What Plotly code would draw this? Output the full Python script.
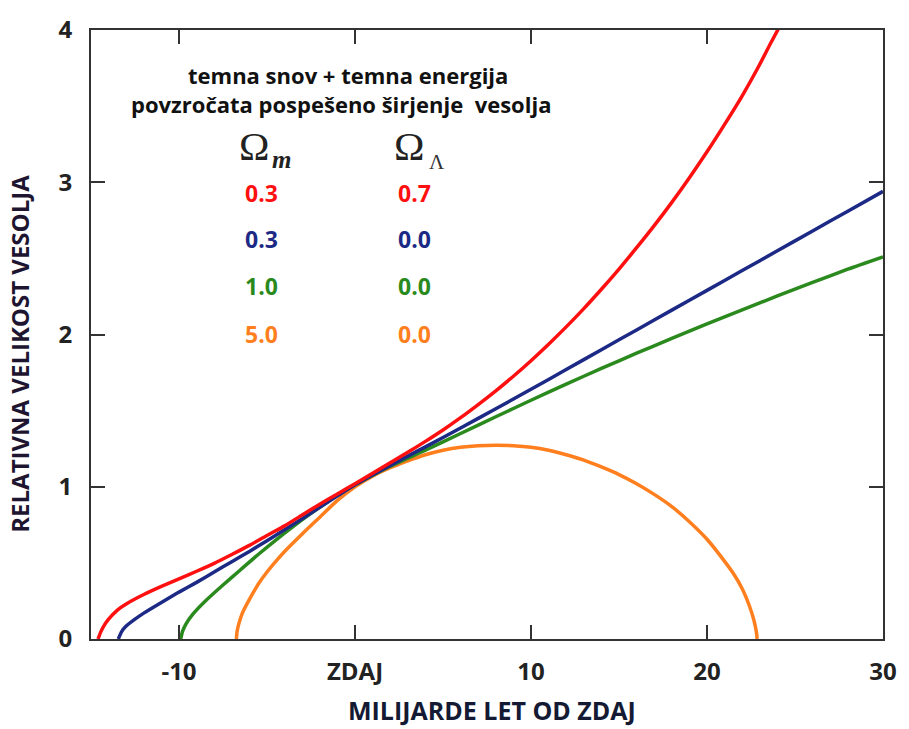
import plotly.graph_objects as go

# ---- data ----
red_x = [-14.6, -14.45, -14.3, -14.0, -13.5, -13.0, -12.0, -11.0, -10.0, -9.0, -8.0, -7.0, -6.0, -5.0, -4.0, -3.0, -2.0, -1.0,
         0.0, 1.0, 2.0, 3.0, 4.0, 5.0, 6.0, 7.0, 8.0, 9.0, 10.0, 11.0, 12.0, 13.0, 14.0, 15.0, 16.0, 17.0, 18.0, 19.0, 20.0,
         21.0, 22.0, 23.0, 23.6, 24.3]
red_y = [0.0, 0.045, 0.08, 0.13, 0.19, 0.23, 0.292, 0.345, 0.395, 0.445, 0.497, 0.555, 0.615, 0.68, 0.743, 0.815, 0.885, 0.953,
         1.02, 1.088, 1.157, 1.226, 1.298, 1.373, 1.454, 1.54, 1.63, 1.726, 1.828, 1.936, 2.05, 2.17, 2.297, 2.43, 2.57, 2.715,
         2.868, 3.03, 3.2, 3.38, 3.568, 3.775, 3.91, 4.06]

blue_x = [-13.45, -13.25, -13.0, -12.5, -12.0, -11.0, -10.0, -9.0, -8.0, -7.0, -6.0, -5.0, -4.0, -3.0, -2.0, -1.0,
          0.0, 2.0, 4.0, 6.0, 8.0, 10.0, 12.0, 14.0, 16.0, 18.0, 20.0, 22.0, 24.0, 26.0, 28.0, 30.0]
blue_y = [0.0, 0.05, 0.085, 0.13, 0.17, 0.24, 0.308, 0.372, 0.44, 0.508, 0.575, 0.646, 0.717, 0.79, 0.865, 0.94,
          1.013, 1.14, 1.262, 1.386, 1.512, 1.64, 1.77, 1.9, 2.03, 2.16, 2.29, 2.42, 2.55, 2.68, 2.81, 2.94]

green_x = [-9.9, -9.8, -9.6, -9.2, -8.5, -7.5, -6.5, -5.5, -4.5, -3.5, -2.5, -1.5, -0.5, 0.0,
           1.0, 2.0, 4.0, 6.0, 8.0, 10.0, 12.0, 14.0, 16.0, 18.0, 20.0, 22.0, 24.0, 26.0, 28.0, 30.0]
green_y = [0.0, 0.05, 0.10, 0.165, 0.25, 0.355, 0.455, 0.555, 0.65, 0.74, 0.825, 0.905, 0.98, 1.013,
           1.075, 1.135, 1.24, 1.35, 1.46, 1.568, 1.674, 1.777, 1.877, 1.974, 2.069, 2.162, 2.253, 2.342, 2.429, 2.51]

orange_x = [-6.74, -6.7, -6.6, -6.4, -6.0, -5.5, -5.0, -4.5, -4.0, -3.0, -2.0, -1.0, 0.0, 1.0, 2.0, 3.0, 4.0, 5.0, 6.0,
            7.0, 8.0, 9.0, 10.0, 11.0, 12.0, 13.0, 14.0, 15.0, 16.0, 17.0, 18.0, 19.0, 20.0, 21.0, 21.5, 22.0, 22.4,
            22.65, 22.8, 22.85]
orange_y = [0.0, 0.05, 0.10, 0.17, 0.26, 0.36, 0.44, 0.51, 0.575, 0.69, 0.80, 0.91, 1.0, 1.07, 1.125, 1.17, 1.21, 1.24,
            1.26, 1.27, 1.273, 1.27, 1.26, 1.24, 1.21, 1.175, 1.13, 1.08, 1.02, 0.95, 0.87, 0.77, 0.655, 0.51, 0.43, 0.33,
            0.22, 0.13, 0.05, 0.0]

x_tick_vals = [-10, 0, 10, 20, 30]
x_tick_text = ["-10", "ZDAJ", "10", "20", "30"]
y_tick_vals = [0, 1, 2, 3, 4]
y_tick_text = ["0", "1", "2", "3", "4"]

omega_m_vals = ["0.3", "0.3", "1.0", "5.0"]
omega_l_vals = ["0.7", "0.0", "0.0", "0.0"]

# ---- styles ----
colors = ["#ff1010", "#1c2a86", "#2b8a1e", "#ff7f1e"]
W, H = 909, 729
L, R, T, B = 91, 19, 19, 90
PW, PH = W - L - R, H - T - B


def px(xp):
    return (xp - L) / PW


def py(yp):
    return (H - B - yp) / PH


fig = go.Figure()
for xs, ys, c in [(orange_x, orange_y, colors[3]), (green_x, green_y, colors[2]),
                  (blue_x, blue_y, colors[1]), (red_x, red_y, colors[0])]:
    fig.add_trace(go.Scatter(x=xs, y=ys, mode="lines",
                             line=dict(color=c, width=3.5, shape="spline", smoothing=0.6),
                             showlegend=False, hoverinfo="skip"))

axis_common = dict(showline=True, linecolor="#333333", linewidth=2, mirror="ticks",
                   ticks="inside", ticklen=14, tickwidth=2, tickcolor="#333333",
                   showgrid=False, zeroline=False,
                   tickfont=dict(family="Open Sans", size=24, color="#222222", weight="bold"))

fig.update_xaxes(range=[-15, 30], tickvals=x_tick_vals, ticktext=x_tick_text,
                 ticklabelstandoff=10, **axis_common)
fig.update_yaxes(range=[0, 4], tickvals=y_tick_vals, ticktext=y_tick_text,
                 ticklabelstandoff=12, **axis_common)

ann = []
head = [dict(text="temna snov + temna energija", x=px(350), y=py(65)),
        dict(text="povzročata pospešeno širjenje  vesolja", x=px(343), y=py(94))]
for a in head:
    a.update(xref="paper", yref="paper", showarrow=False, xanchor="center", yanchor="middle",
             font=dict(family="Open Sans", size=22, color="#111111", weight="bold"))
ann += head

sym = [
    dict(text="Ω", x=px(255), y=py(137), font=dict(family="Liberation Serif", size=41, color="#222222")),
    dict(text="<i><b>m</b></i>", x=px(283), y=py(151), font=dict(family="Liberation Serif", size=25, color="#222222")),
    dict(text="Ω", x=px(412), y=py(137), font=dict(family="Liberation Serif", size=41, color="#222222")),
    dict(text="Λ", x=px(440), y=py(153), font=dict(family="Liberation Serif", size=21, color="#333333")),
]
for a in sym:
    a.update(xref="paper", yref="paper", showarrow=False, xanchor="center", yanchor="middle")
ann += sym

rows_y = [185, 232, 280, 328]
for i in range(4):
    for xcol, txt in [(263, omega_m_vals[i]), (417, omega_l_vals[i])]:
        ann.append(dict(text=txt, x=px(xcol), y=py(rows_y[i]), xref="paper", yref="paper",
                        showarrow=False, xanchor="center", yanchor="middle",
                        font=dict(family="Open Sans", size=23, color=colors[i], weight="bold")))

ann.append(dict(text="MILIJARDE LET OD ZDAJ", x=px(496), y=py(711), xref="paper", yref="paper",
                showarrow=False, xanchor="center", yanchor="middle",
                font=dict(family="Open Sans", size=25, color="#141a33", weight="bold")))
ann.append(dict(text="RELATIVNA VELIKOST VESOLJA", x=px(19), y=py(349), xref="paper", yref="paper",
                showarrow=False, xanchor="center", yanchor="middle", textangle=-90,
                font=dict(family="Open Sans", size=24, color="#1e1530", weight="bold")))

fig.update_layout(width=W, height=H, margin=dict(l=L, r=R, t=T, b=B),
                  paper_bgcolor="white", plot_bgcolor="white", annotations=ann)

fig.write_html("out.html", config={"displayModeBar": False},
               post_script="document.body.style.margin='0';")
